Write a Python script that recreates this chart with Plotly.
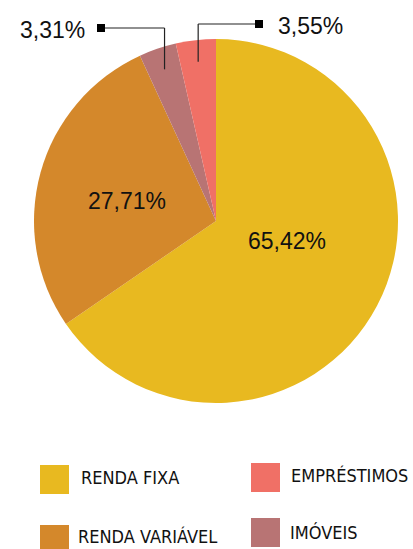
import math
import plotly.graph_objects as go

# ---- data ----
categories = ["RENDA FIXA", "RENDA VARIÁVEL", "IMÓVEIS", "EMPRÉSTIMOS"]
values = [65.42, 27.71, 3.31, 3.55]
colors = ["#E8B920", "#D4882B", "#B87474", "#F07066"]
value_labels = ["65,42%", "27,71%", "3,31%", "3,55%"]

W, H = 413, 549
CX, CY, R = 216, 221, 182   # pie centre / radius in px

LABEL_FONT = "Liberation Sans, Arial, sans-serif"
LEG_FONT = "DejaVu Sans Condensed, Liberation Sans Narrow, sans-serif"


def px(x):
    return x / W


def py(y):
    return 1 - y / H


fig = go.Figure(
    go.Pie(
        labels=categories,
        values=values,
        marker=dict(colors=colors, line=dict(width=0)),
        sort=False,
        direction="clockwise",
        rotation=0,
        textinfo="none",
        hoverinfo="label+percent",
        showlegend=False,
        domain=dict(x=[px(CX - R), px(CX + R)], y=[py(CY + R), py(CY - R)]),
    )
)

total = sum(values)
shapes = []
annotations = []

# angles of slice mid-points (clockwise from 12 o'clock)
start = 0.0
mids = []
for v in values:
    frac = v / total
    mids.append((start + frac / 2) * 360)
    start += frac


def polar(angle_deg, rr):
    a = math.radians(angle_deg)
    return CX + rr * math.sin(a), CY - rr * math.cos(a)


# inside labels for the two large slices (text placement in px)
inside_pos = {0: (287, 241), 1: (127, 201)}
for i, (x, y) in inside_pos.items():
    annotations.append(dict(
        x=px(x), y=py(y), xref="paper", yref="paper", showarrow=False,
        xanchor="center", yanchor="middle",
        text=value_labels[i], font=dict(family=LABEL_FONT, size=23, color="#111"),
    ))

# outside labels with leader lines for small slices
leader = {2: (28, 101, "right"), 3: (24, 259, "left")}
for i, (ey, ex, side) in leader.items():
    x0, y0 = polar(mids[i], R * 0.88)
    shapes.append(dict(type="line", xref="paper", yref="paper",
                       x0=px(x0), y0=py(y0), x1=px(x0), y1=py(ey),
                       line=dict(color="#222", width=1.2)))
    shapes.append(dict(type="line", xref="paper", yref="paper",
                       x0=px(x0), y0=py(ey), x1=px(ex), y1=py(ey),
                       line=dict(color="#222", width=1.2)))
    shapes.append(dict(type="rect", xref="paper", yref="paper",
                       x0=px(ex - 4), y0=py(ey + 4), x1=px(ex + 4), y1=py(ey - 4),
                       fillcolor="#000", line=dict(width=0)))
    if side == "right":
        annotations.append(dict(x=px(ex - 14), y=py(ey + 2), xref="paper", yref="paper",
                                xanchor="right", yanchor="middle", showarrow=False,
                                text=value_labels[i],
                                font=dict(family=LABEL_FONT, size=23, color="#111")))
    else:
        annotations.append(dict(x=px(ex + 17), y=py(ey + 2), xref="paper", yref="paper",
                                xanchor="left", yanchor="middle", showarrow=False,
                                text=value_labels[i],
                                font=dict(family=LABEL_FONT, size=23, color="#111")))

# custom legend: (square x0, square y0, text x, text y)
legend_pos = {
    0: (40, 465, 79, 477),
    1: (40, 525, 76, 536),
    2: (251, 518, 288, 532),
    3: (251, 463, 289, 475),
}
for i, (sx, sy, tx, ty) in legend_pos.items():
    shapes.append(dict(type="rect", xref="paper", yref="paper",
                       x0=px(sx), y0=py(sy + 29), x1=px(sx + 29), y1=py(sy),
                       fillcolor=colors[i], line=dict(width=0)))
    annotations.append(dict(x=px(tx), y=py(ty), xref="paper", yref="paper",
                            xanchor="left", yanchor="middle", showarrow=False,
                            text=categories[i],
                            font=dict(family=LEG_FONT, size=18, color="#111")))

fig.update_layout(
    width=W, height=H,
    margin=dict(l=0, r=0, t=0, b=0),
    paper_bgcolor="white", plot_bgcolor="white",
    shapes=shapes, annotations=annotations,
    showlegend=False,
)

fig.write_html(
    "out.html",
    config={"displayModeBar": False},
    post_script="document.body.style.margin='0';document.body.style.overflow='hidden';",
)
